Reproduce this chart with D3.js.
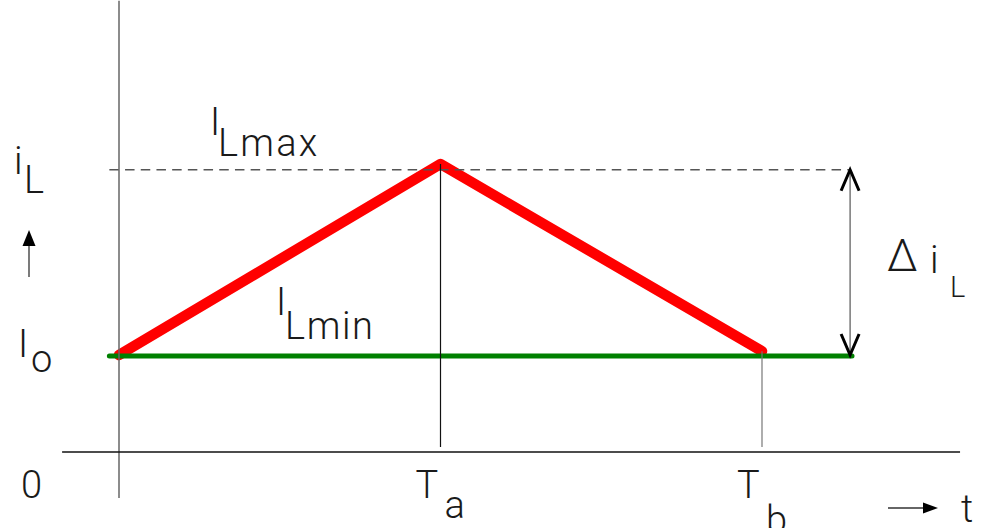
<!DOCTYPE html>
<html>
<head>
<meta charset="utf-8">
<script src="https://cdn.jsdelivr.net/npm/d3@7/dist/d3.min.js"></script>
<style>
  html, body { margin: 0; padding: 0; background: #fff; }
  svg { display: block; }
  text { font-family: Roboto, "DejaVu Sans", sans-serif; font-weight: 300; fill: #1a1a1a; }
</style>
</head>
<body>
<svg id="chart" width="981" height="528"></svg>
<script>
// Switching instants (in units of the time axis): 0, Ta, Tb
const times = [0, 1, 2];
const timeLabels = [{ main: "T", sub: "a" }, { main: "T", sub: "b" }];
// Inductor current at those instants (units of the current axis)
const iL = [1.01, 3.0, 1.05];
// Reference levels
const Io = 1.0;
const ILmax = 2.94;
// Extents of the guide lines, in data units
const axisT = [-0.177, 2.616];
const axisI = [-0.48, 4.7];
const ioSpan = [-0.03, 2.28];
const maxSpan = [-0.03, 2.274];
const deltaAt = 2.274;

const svg = d3.select("#chart");
const x = d3.scaleLinear().domain([0, 2]).range([119, 762]);
const y = d3.scaleLinear().domain([0, 3]).range([452, 164]);

// current waveform (drawn first so the thin guides sit on top)
svg.append("path")
  .datum(times.map((t, i) => [t, iL[i]]))
  .attr("d", d3.line().x(d => x(d[0])).y(d => y(d[1])))
  .attr("fill", "none")
  .attr("stroke", "#ff0000")
  .attr("stroke-width", 10.5)
  .attr("stroke-linejoin", "round")
  .attr("stroke-linecap", "round");

// output current level Io
svg.append("line")
  .attr("x1", x(ioSpan[0])).attr("x2", x(ioSpan[1]))
  .attr("y1", y(Io)).attr("y2", y(Io))
  .attr("stroke", "#008000").attr("stroke-width", 5)
  .attr("stroke-linecap", "round");

// ILmax dashed level
svg.append("line")
  .attr("x1", x(maxSpan[0])).attr("x2", x(maxSpan[1]))
  .attr("y1", y(ILmax)).attr("y2", y(ILmax))
  .attr("stroke", "#555").attr("stroke-width", 1.3)
  .attr("stroke-dasharray", "9.5,6.2");

// axes
svg.append("line")
  .attr("x1", x(0)).attr("x2", x(0))
  .attr("y1", y(axisI[1])).attr("y2", y(axisI[0]))
  .attr("stroke", "#666").attr("stroke-width", 1.5);
svg.append("line")
  .attr("x1", x(axisT[0])).attr("x2", x(axisT[1]))
  .attr("y1", y(0)).attr("y2", y(0))
  .attr("stroke", "#111").attr("stroke-width", 1.4);

// drop lines at Ta and Tb
svg.selectAll(".drop")
  .data(times.slice(1))
  .join("line")
  .attr("class", "drop")
  .attr("x1", d => x(d)).attr("x2", d => x(d))
  .attr("y1", (d, i) => y(iL[i + 1])).attr("y2", y(0) - 5)
  .attr("stroke", (d, i) => i === 0 ? "#111" : "#777")
  .attr("stroke-width", 1.2);

// delta iL dimension arrow
const dx = x(deltaAt), yTop = y(ILmax), yBot = y(Io);
svg.append("line")
  .attr("x1", dx).attr("x2", dx).attr("y1", yTop).attr("y2", yBot)
  .attr("stroke", "#555").attr("stroke-width", 1.2);
const chev = (x0, y0, dir) => `M${x0 - 9},${y0 + dir * 21}L${x0},${y0}L${x0 + 9},${y0 + dir * 21}`;
svg.append("path").attr("d", chev(dx, yTop, 1))
  .attr("fill", "none").attr("stroke", "#000").attr("stroke-width", 3);
svg.append("path").attr("d", chev(dx, yBot - 1, -1))
  .attr("fill", "none").attr("stroke", "#000").attr("stroke-width", 3);

// axis direction arrows
svg.append("line").attr("x1", 29).attr("x2", 29).attr("y1", 277).attr("y2", 243)
  .attr("stroke", "#333").attr("stroke-width", 1.3);
svg.append("path").attr("d", "M29,230L35.5,246L22.5,246Z").attr("fill", "#000");
svg.append("line").attr("x1", 888).attr("x2", 925).attr("y1", 508).attr("y2", 508)
  .attr("stroke", "#333").attr("stroke-width", 1.3);
svg.append("path").attr("d", "M938,508L923,502.5L923,513.5Z").attr("fill", "#000");

// labels
function label(parts) {
  const t = svg.append("text");
  parts.forEach(p => {
    t.append("tspan")
      .attr("x", p.x).attr("y", p.y)
      .style("font-size", p.size + "px")
      .style("letter-spacing", (p.ls || 0) + "px")
      .text(p.text);
  });
  return t;
}
const S = 38;
label([{ text: "i", x: 14, y: 174, size: S }, { text: "L", x: 24, y: 193, size: S }]);
label([{ text: "I", x: 18, y: 357, size: S }, { text: "o", x: 31, y: 372, size: S }]);
label([{ text: "0", x: 21, y: 498, size: S }]);
label([{ text: "I", x: 210, y: 135, size: S }, { text: "Lmax", x: 218, y: 156, size: S, ls: 2.2 }]);
label([{ text: "I", x: 276, y: 315, size: S }, { text: "Lmin", x: 285, y: 339, size: S, ls: 1.6 }]);
label([{ text: "\u0394", x: 887, y: 271, size: 44 }, { text: "i", x: 930, y: 273, size: S }, { text: "L", x: 950, y: 297, size: 29 }]);
timeLabels.forEach((d, i) => {
  const cx = x(times[i + 1]);
  label([
    { text: d.main, x: cx - 25, y: 498, size: S },
    { text: d.sub, x: cx + 4, y: i === 0 ? 518 : 533, size: S }
  ]);
});
label([{ text: "t", x: 961, y: 522, size: S }]);
</script>
</body>
</html>
